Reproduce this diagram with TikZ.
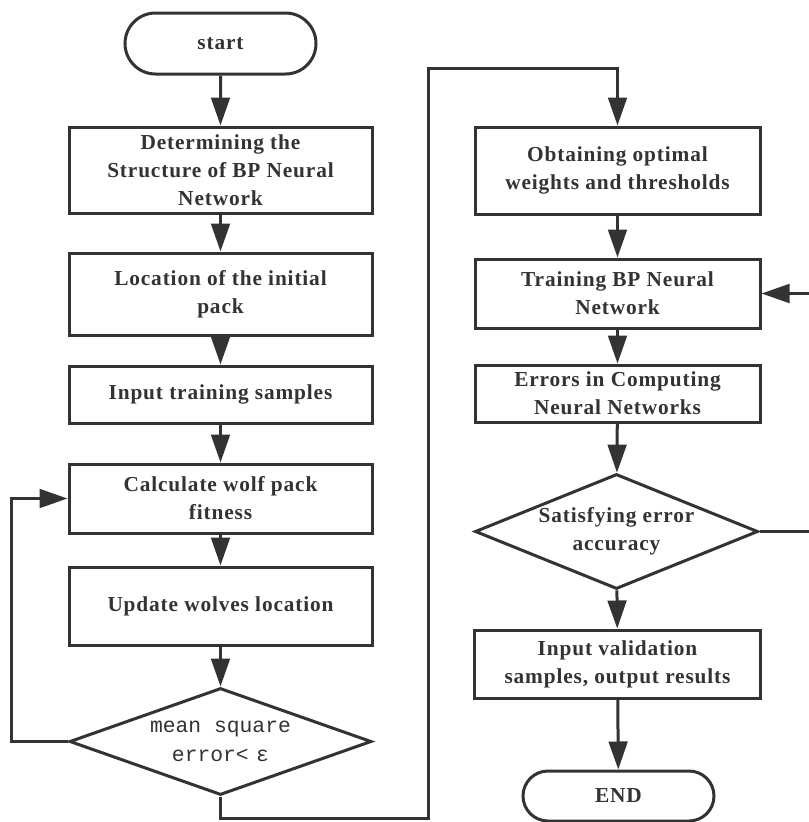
\documentclass[tikz,border=0pt]{standalone}
\usepackage{fontspec}
\setmainfont[LetterSpace=4]{Liberation Serif}
\newfontfamily\monof{Liberation Mono}
\usetikzlibrary{arrows.meta,shapes.geometric,shapes.misc}
\definecolor{ink}{HTML}{333333}
\begin{document}
\begin{tikzpicture}[x=0.75pt,y=-0.75pt,
  txt/.style={font=\fontsize{16}{21}\selectfont\bfseries},
  box/.style={draw=ink, line width=2.25pt, rectangle, align=center,
    txt, text=ink, inner sep=0pt},
  term/.style={box, rounded rectangle, rounded rectangle arc length=180},
  dec/.style={draw=ink, line width=2.25pt, diamond, inner sep=0pt},
  lbl/.style={align=center, text=ink, inner sep=0pt},
  arr/.style={draw=ink, line width=2.25pt, -{Triangle[length=21pt,width=14pt]}},
  ln/.style={draw=ink, line width=2.25pt}]
\useasboundingbox[fill=white] (0,0) rectangle (808,822);

% left column
\node[term, minimum width=143.25pt, minimum height=45.75pt] (start) at (220.5,43.5) {start};
\node[box, minimum width=227.25pt, minimum height=64.5pt] (b1) at (220.5,170) {Determining the\\Structure of BP Neural\\Network};
\node[box, minimum width=227.25pt, minimum height=61.5pt] (b2) at (220.5,294) {Location of the initial\\pack};
\node[box, minimum width=227.25pt, minimum height=42.75pt] (b3) at (220.5,394.5) {Input training samples};
\node[box, minimum width=227.25pt, minimum height=51.75pt] (b4) at (220.5,498.5) {Calculate wolf pack\\fitness};
\node[box, minimum width=227.25pt, minimum height=58.5pt] (b5) at (220.5,606) {Update wolves location};
\node[dec, minimum width=226.5pt, minimum height=80.25pt,
  label={[lbl, font=\monof\fontsize{16}{21.5}\selectfont]center:mean square\\error<\hspace{0.35em}ε}] (dL) at (220.5,741.5) {};

% right column
\node[box, minimum width=213.75pt, minimum height=65.25pt] (r1) at (617.5,170.5) {Obtaining optimal\\weights and thresholds};
\node[box, minimum width=213.75pt, minimum height=51.75pt] (r2) at (617.5,293.5) {Training BP Neural\\Network};
\node[box, minimum width=213.75pt, minimum height=42.75pt] (r3) at (617.5,393.5) {Errors in Computing\\Neural Networks};
\node[dec, minimum width=212.25pt, minimum height=86.25pt,
  label={[lbl, txt]center:Satisfying error\\accuracy}] (dR) at (616.5,531.5) {};
\node[box, minimum width=214.5pt, minimum height=51pt] (r4) at (617.5,664) {Input validation\\samples, output results};
\node[term, minimum width=143.25pt, minimum height=37.5pt] (end) at (618.5,796) {END};

% helper coordinates
\coordinate (c1) at (428,818);
\coordinate (c2) at (428,68);
\coordinate (c4) at (816,0);

% connectors left
\draw[arr] (start) -- (b1);
\draw[arr] (b1) -- (b2);
\draw[arr] (b2) -- (b3);
\draw[arr] (b3) -- (b4);
\draw[arr] (b4) -- (b5);
\draw[arr] (b5) -- (dL);
\draw[arr] (dL.west) -| ([xshift=-57*0.75pt]dL.west) |- (b4.west);
\draw[arr] (dL.south) |- (c1) -- (c2) -| (r1.north);

% connectors right
\draw[arr] (r1) -- (r2);
\draw[arr] (r2) -- (r3);
\draw[arr] (r3) -- (dR);
\draw[arr] (dR) -- (r4);
\draw[arr] (r4) -- (end);
\draw[arr] (dR.east) -| (c4 |- dR.east) |- (r2.east);
\end{tikzpicture}
\end{document}
